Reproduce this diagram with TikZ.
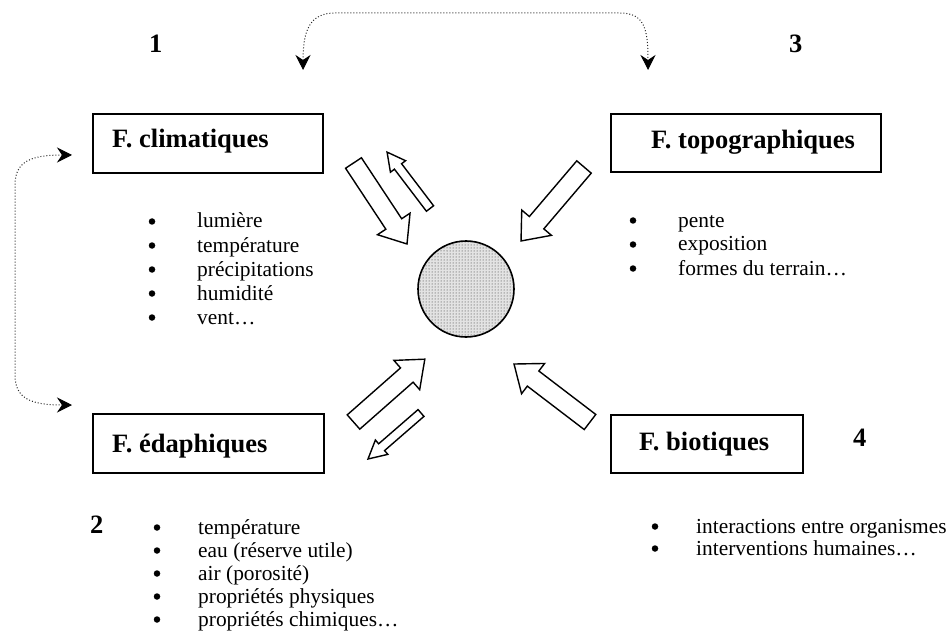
\documentclass[tikz,border=0pt]{standalone}
\usepackage{fontspec}
\setmainfont{Liberation Serif}
\usetikzlibrary{arrows.meta,patterns}
\newcommand\blkarrow[7]{%
 \pgfmathsetmacro\baDx{#3-#1}%
 \pgfmathsetmacro\baDy{#4-#2}%
 \pgfmathsetmacro\baAng{atan2(-\baDy,\baDx)}%
 \pgfmathsetmacro\baLen{veclen(\baDx,\baDy)}%
 \pgfmathsetmacro\baNeck{\baLen-#7}%
 \draw[blk, shift={(#1,#2)}, rotate=\baAng] (0,#5/2) -- (\baNeck,#5/2) -- (\baNeck,#6/2) -- (\baLen,0) -- (\baNeck,-#6/2) -- (\baNeck,-#5/2) -- (0,-#5/2) -- cycle;}
\begin{document}
\begin{tikzpicture}[x=1pt,y=-1pt,
  fbox/.style={draw, line width=1.6pt, inner sep=0pt, anchor=north west},
  ttl/.style={font=\fontsize{26.5}{30}\selectfont\bfseries, inner sep=0pt, anchor=base west},
  num/.style={font=\fontsize{26.5}{30}\selectfont\bfseries, inner sep=0pt, anchor=base west},
  itm/.style={font=\fontsize{21.4}{24}\selectfont, inner sep=0pt, anchor=base west},
  bul/.style={circle, fill=black, inner sep=0pt, minimum size=6.5pt},
  blk/.style={draw, line width=1.4pt, fill=white, line join=miter},
  link/.style={dotted, line width=1pt, black!85, {Stealth[length=15pt,width=15pt,inset=5pt,black]}-{Stealth[length=15pt,width=15pt,inset=5pt,black]}}]
\path[use as bounding box] (0,0) rectangle (949,644);

% boxes
\node[fbox, minimum width=230, minimum height=59] (clim) at (92,113) {};
\node[fbox, minimum width=270, minimum height=58] (topo) at (610,113) {};
\node[fbox, minimum width=231, minimum height=59] (edap) at (92,413) {};
\node[fbox, minimum width=192, minimum height=58] (biot) at (610,414) {};
\node[ttl] (climT) at (112,148) {F. climatiques};
\node[ttl] (topoT) at (651,149) {F. topographiques};
\node[ttl] (edapT) at (112,452) {F. édaphiques};
\node[ttl] (biotT) at (639,450) {F. biotiques};

% numbers
\node[num] (n1) at (149,53) {1};
\node[num] (n3) at (789,53) {3};
\node[num] (n2) at (90,533) {2};
\node[num] (n4) at (853,446) {4};

% lists
\foreach \t [count=\i] in {{lumière},{température},{précipitations},{humidité},{vent…}} {
  \node[bul] (cb\i) at (152,{228-6.5+24*(\i-1)}) {};
  \node[itm] (ct\i) at (197,{228+24*(\i-1)}) {\t};
}
\foreach \t [count=\i] in {{pente},{exposition},{formes du terrain…}} {
  \node[bul] (tb\i) at (633,{227-6.5+24*(\i-1)}) {};
  \node[itm] (tt\i) at (678,{227+24*(\i-1)}) {\t};
}
\foreach \t [count=\i] in {{température},{eau (réserve utile)},{air (porosité)},{propriétés physiques},{propriétés chimiques…}} {
  \node[bul] (eb\i) at (157,{534-6.5+23*(\i-1)}) {};
  \node[itm] (et\i) at (198,{534+23*(\i-1)}) {\t};
}
\foreach \t [count=\i] in {{interactions entre organismes},{interventions humaines…}} {
  \node[bul] (bb\i) at (655,{533-6.5+22*(\i-1)}) {};
  \node[itm] (bt\i) at (696,{533+22*(\i-1)}) {\t};
}

% central circle
\node[circle, draw, line width=1.6pt, minimum size=96pt, inner sep=0pt,
      preaction={fill=gray!22}, pattern=dots, pattern color=black!85] (core) at (466,289) {};

% block arrows
\blkarrow{353.5}{163}{407}{244}{19}{39}{24}
\blkarrow{430}{208.5}{387}{152}{9}{19}{18}
\blkarrow{584}{167}{521}{241}{19}{39}{24}
\blkarrow{353.5}{422}{425}{359}{19}{39}{24}
\blkarrow{421}{413}{368}{459}{9}{19}{18}
\blkarrow{590}{422}{514}{364}{19}{38}{24}

% dotted connectors
\coordinate (tl) at (303,70);
\coordinate (tr) at (648,70);
\draw[link] (tl) .. controls (303,30) and (310,13) .. (335,13) -- (620,13) .. controls (645,13) and (648,30) .. (tr);
\coordinate (lu) at (72,155);
\coordinate (ll) at (72,405);
\draw[link] (lu) .. controls (30,155) and (15,162) .. (15,185) -- (15,375) .. controls (15,398) and (30,405) .. (ll);
\end{tikzpicture}
\end{document}
